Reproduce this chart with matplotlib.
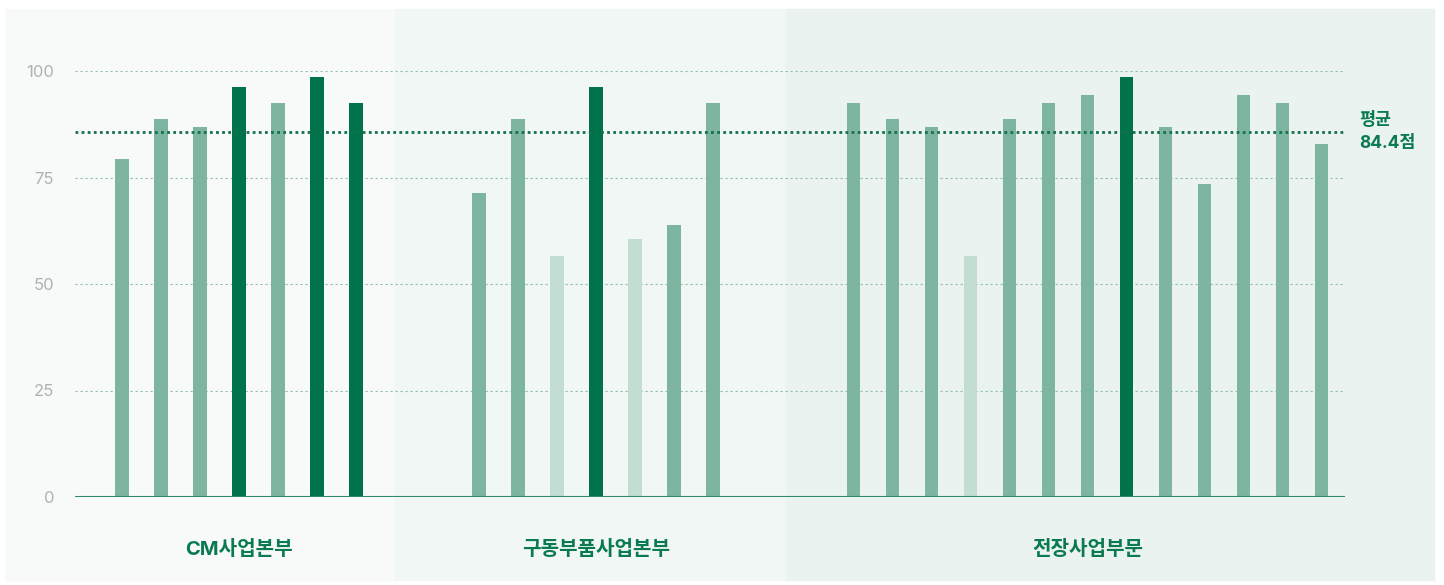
import matplotlib.pyplot as plt
from matplotlib.patches import Rectangle

plt.rcParams['font.family'] = ['Inter', 'Noto Sans CJK KR', 'DejaVu Sans']

groups = ['CM사업본부', '구동부품사업본부', '전장사업부문']
cm_scores = [79.3, 88.7, 86.9, 96.2, 92.5, 98.6, 92.5]
drive_scores = [71.4, 88.7, 56.6, 96.2, 60.6, 63.8, 92.5]
elec_scores = [92.5, 88.7, 86.9, 56.6, 88.7, 92.5, 94.4, 98.6, 86.9, 73.5, 94.4, 92.5, 82.9]
cm_tone = ['mid', 'mid', 'mid', 'dark', 'mid', 'dark', 'dark']
drive_tone = ['mid', 'mid', 'pale', 'dark', 'pale', 'mid', 'mid']
elec_tone = ['mid', 'mid', 'mid', 'pale', 'mid', 'mid', 'mid', 'dark', 'mid', 'mid', 'mid', 'mid', 'mid']
avg_label = '평균\n84.4점'
avg_line = 85.7
yticks = [0, 25, 50, 75, 100]

tone_colors = {'dark': '#00734b', 'mid': '#7db5a0', 'pale': '#c3ddd3'}
green = '#0a7a50'

W, H = 1444, 585
fig = plt.figure(figsize=(W / 100, H / 100), dpi=100)

# section backgrounds (pixel coords -> figure coords)
sections = [(5, 395, '#f8faf9'), (395, 786, '#f1f7f4'), (786, 1434, '#eaf3ef')]
for x0, x1, c in sections:
    fig.patches.append(Rectangle((x0 / W, 5 / H), (x1 - x0) / W, (578 - 7) / H,
                                 transform=fig.transFigure, color=c, zorder=-5))

ax_l, ax_r, ax_b, ax_t = 75, 1345, 497, 71
ax = fig.add_axes([ax_l / W, (H - ax_b) / H, (ax_r - ax_l) / W, (ax_b - ax_t) / H])
ax.set_zorder(2)
ax.set_facecolor('none')

slot = 39.0
starts = [1.205, 10.36, 19.97]
all_scores = [cm_scores, drive_scores, elec_scores]
all_tones = [cm_tone, drive_tone, elec_tone]

for g, (scores, tones, s0) in enumerate(zip(all_scores, all_tones, starts)):
    xs = [s0 + i for i in range(len(scores))]
    ax.bar(xs, scores, width=0.34, color=[tone_colors[t] for t in tones], zorder=3)
    center = (xs[0] + xs[-1]) / 2
    ax.text(center, -12.3, groups[g], ha='center', va='center', fontsize=14.5,
            fontweight='bold', color=green)

ax.set_xlim(0, (ax_r - ax_l) / slot)
ax.set_ylim(0, 100)

for y in yticks[1:]:
    ax.axhline(y, color='#8fbfaa', linestyle=(0, (2, 2.5)), linewidth=0.8, zorder=1)
ax.axhline(0, color='#2e8b66', linewidth=1.5, zorder=4)
ax.axhline(avg_line, color='#13704c', linestyle=(0, (1, 1.2)), linewidth=2, zorder=5)

ax.text(1.011, avg_line, avg_label, transform=ax.get_yaxis_transform(), ha='left',
        va='center', fontsize=12.5, fontweight='bold', color=green, linespacing=1.45)

ax.set_yticks(yticks)
ax.set_yticklabels([str(v) for v in yticks], color='#acb4b1', fontsize=12)
ax.tick_params(axis='y', length=0, pad=15)
ax.set_xticks([])
for s in ax.spines.values():
    s.set_visible(False)

fig.savefig('out.png', dpi=100, facecolor='white')
